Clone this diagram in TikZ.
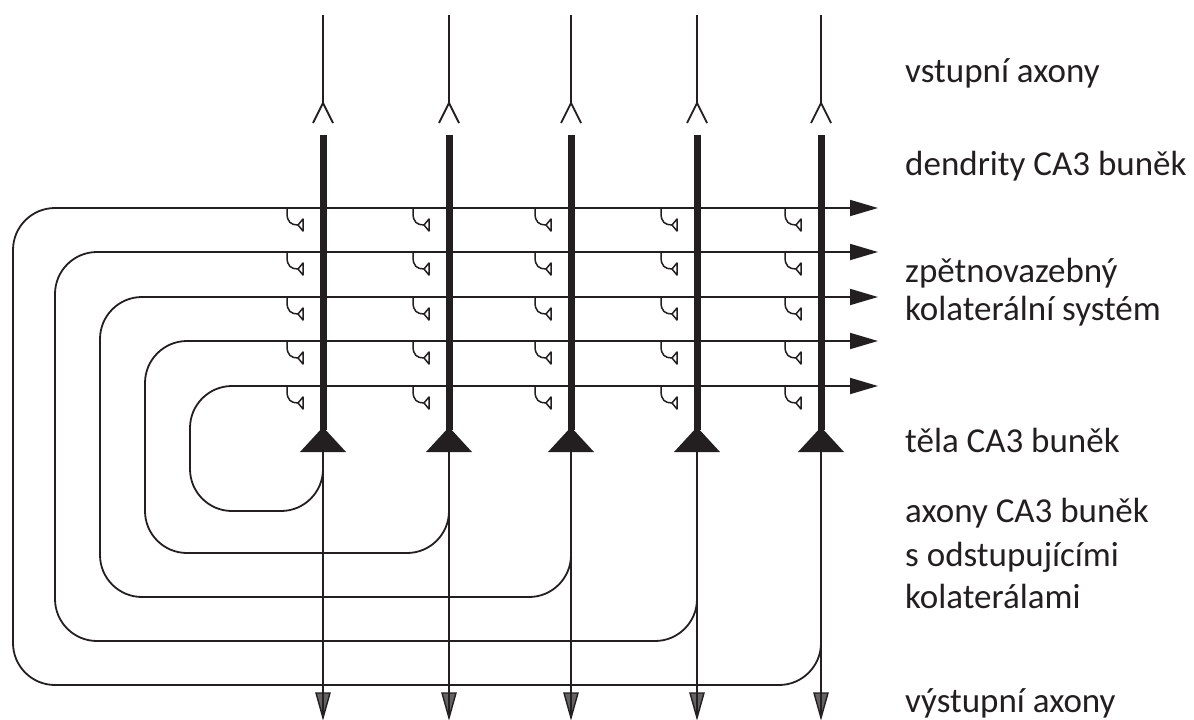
\documentclass[tikz,border=0pt]{standalone}
\usepackage{fontspec}
\setmainfont{Carlito}
\usetikzlibrary{arrows.meta}
\definecolor{ink}{HTML}{231F20}
\begin{document}
\begin{tikzpicture}[x=1pt,y=-1pt,
  fibre/.style={draw=ink,line width=1.8pt},
  hookline/.style={draw=ink,line width=1.5pt},
  dendrite/.style={draw=ink,line width=7pt},
  soma/.style={fill=ink},
  label/.style={anchor=base west,inner sep=0pt,text=ink,font=\fontsize{35}{42}\selectfont},
  outtip/.style={draw=ink,line width=1.4pt,fill=ink!70}
]
\useasboundingbox (0,0) rectangle (1194,720);
% recurrent collateral loops
\foreach \X/\L/\B/\Y in {323/190/511/386, 449/145/553/341, 571/100/597/297, 697/55/641/252, 821/13/685/208} {
  \draw[fibre,rounded corners=42pt,-{Triangle[length=28pt,width=16pt]}]
    (\X,458) -- (\X,\B) -- (\L,\B) -- (\L,\Y) -- (878,\Y);
}
% synaptic hooks
\foreach \X in {323,449,571,697,821} {
  \foreach \Y in {208,252,297,341,386} {
    \draw[hookline] (\X-36,\Y) -- (\X-36,\Y+5) .. controls (\X-36,\Y+14) and (\X-32,\Y+17) .. (\X-25,\Y+17);
    \draw[hookline,line join=round] (\X-25,\Y+17) -- (\X-20,\Y+11) -- (\X-20,\Y+23) -- cycle;
  }
}
% cells
\foreach \X in {323,449,571,697,821} {
  % input axons
  \draw[fibre] (\X,15) -- (\X,103);
  \draw[fibre] (\X-10,123) -- (\X,103) -- (\X+10,123);
  % dendrite
  \draw[dendrite] (\X,135) -- (\X,430);
  % soma
  \fill[soma] (\X,427) -- (\X+23,452) -- (\X-23,452) -- cycle;
  % output axon
  \draw[fibre] (\X,452) -- (\X,712);
  \draw[outtip] (\X-7,693) -- (\X+7,693) -- (\X,718) -- cycle;
  \draw[draw=ink,line width=1.2pt] (\X,693) -- (\X,714);
}
% labels
\node[label] (t1) at (905,82) {vstupní axony};
\node[label] (t2) at (905,175) {dendrity CA3 buněk};
\node[label] (t3) at (905,282) {zpětnovazebný};
\node[label] (t4) at (905,320) {kolaterální systém};
\node[label] (t5) at (905,452) {těla CA3 buněk};
\node[label] (t6) at (905,522) {axony CA3 buněk};
\node[label] (t7) at (905,566) {s odstupujícími};
\node[label] (t8) at (905,608) {kolaterálami};
\node[label] (t9) at (905,712) {výstupní axony};
\end{tikzpicture}
\end{document}
